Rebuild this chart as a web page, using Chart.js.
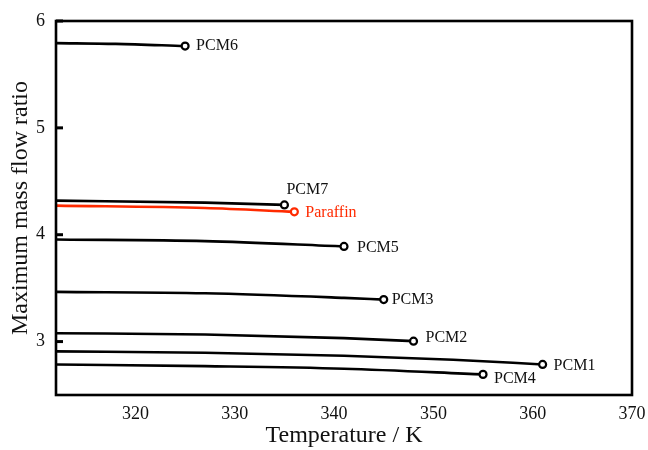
<!DOCTYPE html>
<html lang="en">
<head>
  <meta charset="UTF-8">
  <title>Maximum mass flow ratio vs temperature</title>
  <script src="https://cdn.jsdelivr.net/npm/chart.js"></script>
  <style>
    html, body { margin: 0; padding: 0; background: #fff; }
    #wrap { width: 648px; height: 450px; }
  </style>
</head>
<body>
  <div id="wrap"><canvas id="flow_chart" width="648" height="450"></canvas></div>

  <script>
    // Series data (temperature in K, ratio)
    const seriesNames = ['PCM1', 'PCM2', 'PCM3', 'PCM4', 'PCM5', 'PCM6', 'PCM7', 'Paraffin'];

    const pcm1T = [312, 327, 341, 352, 361];
    const pcm1Y = [2.908, 2.895, 2.868, 2.830, 2.786];
    const pcm2T = [312, 327, 341, 348];
    const pcm2Y = [3.078, 3.066, 3.032, 3.004];
    const pcm3T = [312, 327, 341, 345];
    const pcm3Y = [3.465, 3.452, 3.409, 3.393];
    const pcm4T = [312, 327, 341, 355];
    const pcm4Y = [2.786, 2.770, 2.746, 2.693];
    const pcm5T = [312, 327, 341];
    const pcm5Y = [3.955, 3.940, 3.890];
    const pcm6T = [312, 318, 325];
    const pcm6Y = [5.793, 5.786, 5.765];
    const pcm7T = [312, 327, 335];
    const pcm7Y = [4.319, 4.300, 4.279];
    const paraffinT = [312, 327, 336];
    const paraffinY = [4.272, 4.250, 4.214];

    const xTicks = [320, 330, 340, 350, 360, 370];
    const yTicks = [3, 4, 5, 6];

    const allT = [pcm1T, pcm2T, pcm3T, pcm4T, pcm5T, pcm6T, pcm7T, paraffinT];
    const allY = [pcm1Y, pcm2Y, pcm3Y, pcm4Y, pcm5Y, pcm6Y, pcm7Y, paraffinY];

    // label placement next to the end marker (pixels)
    const labelOffsets = [[11, 1], [12, -3], [8, 0], [11, 4], [13, 1], [11, 0], [2, -15], [11, 1]];

    const serif = "'Liberation Serif', 'DejaVu Serif', serif";

    const datasets = seriesNames.map((name, i) => {
      const color = name === 'Paraffin' ? '#ff2a00' : '#000';
      const last = allT[i].length - 1;
      return {
        label: name,
        data: allT[i].map((t, k) => ({ x: t, y: allY[i][k] })),
        borderColor: color,
        borderWidth: 2.6,
        cubicInterpolationMode: 'monotone',
        pointRadius: ctx => ctx.dataIndex === last ? 3.5 : 0,
        pointBorderWidth: 2.2,
        pointBorderColor: color,
        pointBackgroundColor: '#fff',
        showLine: true,
        fill: false
      };
    });

    // frame + inward y ticks + end labels
    const decorations = {
      id: 'decorations',
      afterDatasetsDraw(chart) {
        const { ctx, chartArea: a } = chart;
        const ys = chart.scales.y;
        ctx.save();
        ctx.strokeStyle = '#000';
        ctx.lineWidth = 2.6;
        ctx.strokeRect(a.left, a.top, a.right - a.left, a.bottom - a.top);
        ctx.lineWidth = 3;
        yTicks.forEach(v => {
          const py = ys.getPixelForValue(v);
          ctx.beginPath();
          ctx.moveTo(a.left, py);
          ctx.lineTo(a.left + 7, py);
          ctx.stroke();
        });
        ctx.font = '16px ' + serif;
        ctx.textBaseline = 'middle';
        ctx.textAlign = 'left';
        chart.data.datasets.forEach((ds, i) => {
          const pts = chart.getDatasetMeta(i).data;
          const p = pts[pts.length - 1];
          ctx.fillStyle = ds.label === 'Paraffin' ? '#ff2a00' : '#111';
          ctx.fillText(ds.label, p.x + labelOffsets[i][0], p.y + labelOffsets[i][1]);
        });
        ctx.restore();
      }
    };

    new Chart(document.getElementById('flow_chart'), {
      type: 'scatter',
      data: { datasets: datasets },
      options: {
        responsive: false,
        animation: false,
        layout: { padding: { top: 21, right: 16, left: 0, bottom: 0 } },
        plugins: { legend: { display: false }, tooltip: { enabled: false } },
        scales: {
          x: {
            type: 'linear',
            min: 312,
            max: 370,
            afterBuildTicks: axis => { axis.ticks = xTicks.map(v => ({ value: v })); },
            afterFit: axis => { axis.height = 55; axis.paddingLeft = 0; axis.paddingRight = 0; },
            grid: { display: false, drawTicks: false },
            border: { display: false },
            ticks: { color: '#111', padding: 8, font: { family: serif, size: 18 } },
            title: {
              display: true,
              text: 'Temperature / K',
              color: '#111',
              font: { family: serif, size: 24 },
              padding: { top: 0, bottom: 0 }
            }
          },
          y: {
            min: 2.5,
            max: 6,
            afterBuildTicks: axis => { axis.ticks = yTicks.map(v => ({ value: v })); },
            afterFit: axis => { axis.width = 56; axis.paddingTop = 0; axis.paddingBottom = 0; },
            grid: { display: false, drawTicks: false },
            border: { display: false },
            ticks: { color: '#111', padding: 11, font: { family: serif, size: 18 } },
            title: {
              display: true,
              text: 'Maximum mass flow ratio',
              color: '#111',
              font: { family: serif, size: 24 },
              padding: { top: 6, bottom: 0 }
            }
          }
        }
      },
      plugins: [decorations]
    });
  </script>
</body>
</html>
